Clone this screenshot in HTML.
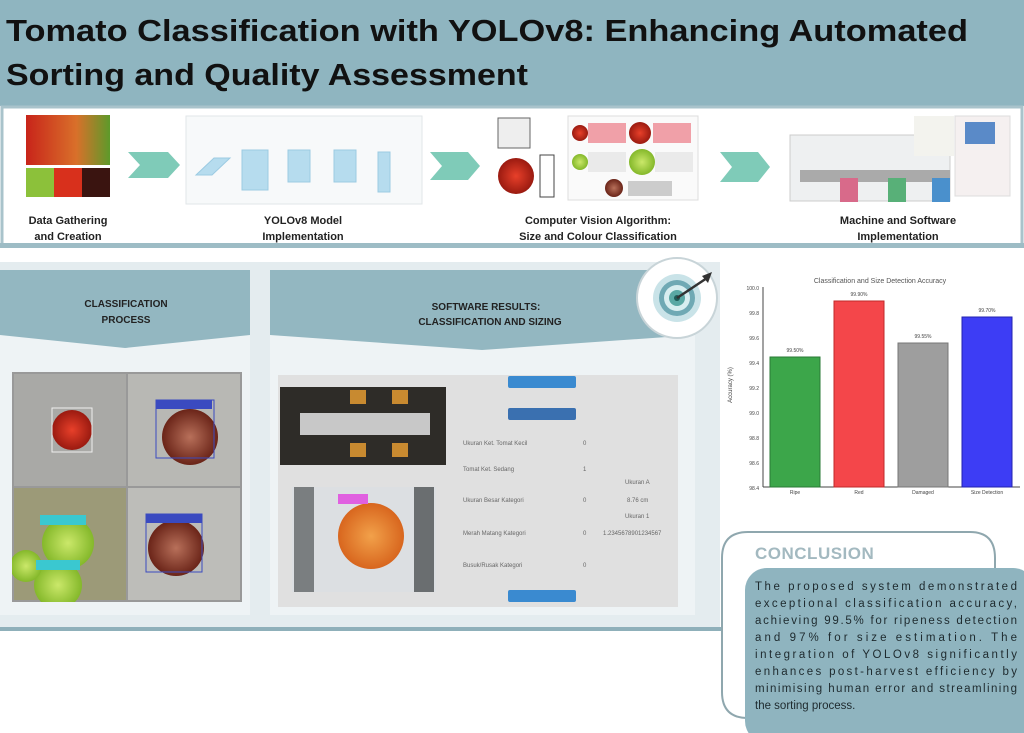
<!DOCTYPE html>
<html><head><meta charset="utf-8"><style>
html,body{margin:0;padding:0;background:#fff;}
svg{display:block;font-family:"Liberation Sans",sans-serif;}
</style></head><body>
<svg width="1024" height="733" viewBox="0 0 1024 733" xmlns="http://www.w3.org/2000/svg">
<defs>
<linearGradient id="tom" x1="0" x2="1"><stop offset="0" stop-color="#c8241a"/><stop offset="0.6" stop-color="#d9702a"/><stop offset="1" stop-color="#5d9a2a"/></linearGradient>
<radialGradient id="org"><stop offset="0" stop-color="#f2a14a"/><stop offset="1" stop-color="#d8661e"/></radialGradient>
<radialGradient id="red"><stop offset="0" stop-color="#e8402a"/><stop offset="1" stop-color="#9a1a10"/></radialGradient>
<radialGradient id="grn"><stop offset="0" stop-color="#cbe86a"/><stop offset="1" stop-color="#84b82a"/></radialGradient>
<radialGradient id="brn"><stop offset="0" stop-color="#b8705a"/><stop offset="1" stop-color="#6a2418"/></radialGradient>
<clipPath id="grid"><rect x="12" y="372" width="230" height="230"/></clipPath>
</defs>
<rect width="1024" height="733" fill="#fff"/>
<!-- header -->
<rect x="0" y="0" width="1024" height="106" fill="#8fb5c0"/>
<text x="6" y="41" font-size="31" font-weight="bold" fill="#111" textLength="962" lengthAdjust="spacingAndGlyphs">Tomato Classification with YOLOv8: Enhancing Automated</text>
<text x="6" y="85" font-size="31" font-weight="bold" fill="#111" textLength="522" lengthAdjust="spacingAndGlyphs">Sorting and Quality Assessment</text>
<!-- pipeline row -->
<rect x="2" y="107" width="1020" height="138" fill="#fff" stroke="#a9c3cb" stroke-width="3"/>
<rect x="0" y="243" width="1024" height="5" fill="#9dbcc5"/>
<rect x="26" y="115" width="84" height="50" fill="url(#tom)"/>
<rect x="26" y="168" width="28" height="29" fill="#8cc13a"/><rect x="54" y="168" width="28" height="29" fill="#d8301c"/><rect x="82" y="168" width="28" height="29" fill="#3a1410"/>
<text x="68" y="224" font-size="11" font-weight="bold" text-anchor="middle" fill="#222">Data Gathering</text>
<text x="68" y="240" font-size="11" font-weight="bold" text-anchor="middle" fill="#222">and Creation</text>
<g fill="#7fcbb8">
<polygon points="128,152 168,152 180,165 168,178 128,178 140,165"/>
<polygon points="430,152 468,152 480,166 468,180 430,180 442,166"/>
<polygon points="720,152 758,152 770,167 758,182 720,182 732,167"/>
</g>
<rect x="186" y="116" width="236" height="88" fill="#f7f9fa" stroke="#e2e6e8"/>
<g fill="#b6dcee" stroke="#9ccbe2">
<polygon points="196,175 214,158 230,158 212,175"/>
<rect x="242" y="150" width="26" height="40"/><rect x="288" y="150" width="22" height="32"/><rect x="334" y="150" width="22" height="32"/><rect x="378" y="152" width="12" height="40"/>
</g>
<text x="303" y="224" font-size="11" font-weight="bold" text-anchor="middle" fill="#222">YOLOv8 Model</text>
<text x="303" y="240" font-size="11" font-weight="bold" text-anchor="middle" fill="#222">Implementation</text>
<rect x="498" y="118" width="32" height="30" fill="#eee" stroke="#666"/>
<circle cx="516" cy="176" r="18" fill="url(#red)"/>
<rect x="540" y="155" width="14" height="42" fill="#fff" stroke="#444"/>
<rect x="568" y="116" width="130" height="84" fill="#fafafa" stroke="#ddd"/>
<circle cx="580" cy="133" r="8" fill="url(#red)"/><rect x="588" y="123" width="38" height="20" fill="#f0a0a8"/>
<circle cx="640" cy="133" r="11" fill="url(#red)"/><rect x="653" y="123" width="38" height="20" fill="#f0a0a8"/>
<circle cx="580" cy="162" r="8" fill="url(#grn)"/><rect x="588" y="152" width="38" height="20" fill="#eaeaea"/>
<circle cx="642" cy="162" r="13" fill="url(#grn)"/><rect x="655" y="152" width="38" height="20" fill="#eaeaea"/>
<circle cx="614" cy="188" r="9" fill="url(#brn)"/><rect x="628" y="181" width="44" height="15" fill="#ccc"/>
<text x="598" y="224" font-size="11" font-weight="bold" text-anchor="middle" fill="#222">Computer Vision Algorithm:</text>
<text x="598" y="240" font-size="11" font-weight="bold" text-anchor="middle" fill="#222">Size and Colour Classification</text>
<rect x="790" y="135" width="160" height="66" fill="#eef0f1" stroke="#ccc"/>
<rect x="800" y="170" width="150" height="12" fill="#aaa"/>
<rect x="840" y="178" width="18" height="24" fill="#d86a8a"/><rect x="888" y="178" width="18" height="24" fill="#58b078"/><rect x="932" y="178" width="18" height="24" fill="#4a90cc"/>
<rect x="914" y="116" width="40" height="40" fill="#f3f3ee"/>
<rect x="955" y="116" width="55" height="80" fill="#f5f0f0" stroke="#ddd"/>
<rect x="965" y="122" width="30" height="22" fill="#5a8ac8"/>
<text x="898" y="224" font-size="11" font-weight="bold" text-anchor="middle" fill="#222">Machine and Software</text>
<text x="898" y="240" font-size="11" font-weight="bold" text-anchor="middle" fill="#222">Implementation</text>
<!-- middle light panel -->
<rect x="0" y="262" width="720" height="366" fill="#e4ecef"/>
<rect x="0" y="627" width="722" height="4" fill="#8fb0ba"/>
<!-- classification panel -->
<rect x="0" y="270" width="250" height="345" fill="#eef3f5"/>
<polygon points="0,270 250,270 250,335 125,348 0,335" fill="#93b7c1"/>
<text x="126" y="307" font-size="10" font-weight="bold" text-anchor="middle" fill="#222">CLASSIFICATION</text>
<text x="126" y="323" font-size="10" font-weight="bold" text-anchor="middle" fill="#222">PROCESS</text>
<rect x="12" y="372" width="230" height="230" fill="#999"/>
<g clip-path="url(#grid)">
<rect x="14" y="374" width="112" height="112" fill="#a9a9a6"/><rect x="128" y="374" width="112" height="112" fill="#b8b8b4"/>
<rect x="14" y="488" width="112" height="112" fill="#9c9a78"/><rect x="128" y="488" width="112" height="112" fill="#bdbdb9"/>
<circle cx="72" cy="430" r="20" fill="url(#red)"/><rect x="52" y="408" width="40" height="44" fill="none" stroke="#eee"/>
<circle cx="190" cy="437" r="28" fill="url(#brn)"/><rect x="156" y="400" width="58" height="58" fill="none" stroke="#3a4ac0"/><rect x="156" y="400" width="56" height="9" fill="#3a4ac0"/>
<circle cx="68" cy="543" r="26" fill="url(#grn)"/><circle cx="58" cy="585" r="24" fill="url(#grn)"/><circle cx="26" cy="566" r="16" fill="url(#grn)"/>
<rect x="40" y="515" width="46" height="10" fill="#3ac8d0"/><rect x="36" y="560" width="44" height="10" fill="#3ac8d0"/>
<circle cx="176" cy="548" r="28" fill="url(#brn)"/><rect x="146" y="514" width="56" height="58" fill="none" stroke="#3a4ac0"/><rect x="146" y="514" width="56" height="9" fill="#3a4ac0"/>
</g>
<!-- software panel -->
<rect x="270" y="270" width="425" height="345" fill="#eef3f5"/>
<polygon points="270,270 695,270 695,335 482,350 270,335" fill="#93b7c1"/>
<text x="486" y="310" font-size="10" font-weight="bold" text-anchor="middle" fill="#222">SOFTWARE RESULTS:</text>
<text x="490" y="325" font-size="10" font-weight="bold" text-anchor="middle" fill="#222">CLASSIFICATION AND SIZING</text>
<rect x="278" y="375" width="400" height="232" fill="#e0e0e0"/>
<rect x="280" y="387" width="166" height="78" fill="#2e2c28"/>
<rect x="300" y="413" width="130" height="22" fill="#c8c8c8"/>
<rect x="350" y="390" width="16" height="14" fill="#c88a30"/><rect x="392" y="390" width="16" height="14" fill="#c88a30"/><rect x="350" y="443" width="16" height="14" fill="#c88a30"/><rect x="392" y="443" width="16" height="14" fill="#c88a30"/>
<rect x="292" y="487" width="144" height="105" fill="#dcdfe2"/>
<rect x="294" y="487" width="20" height="105" fill="#7a7e80"/><rect x="414" y="487" width="20" height="105" fill="#6a6e70"/>
<circle cx="371" cy="536" r="33" fill="url(#org)"/><rect x="338" y="494" width="30" height="10" fill="#e060e0"/>
<rect x="508" y="376" width="68" height="12" rx="2" fill="#3a8ad0"/>
<rect x="508" y="408" width="68" height="12" rx="2" fill="#3a70b0"/>
<rect x="508" y="590" width="68" height="12" rx="2" fill="#3a8ad0"/>
<g font-size="6" fill="#666">
<text x="463" y="445">Ukuran Ket. Tomat Kecil</text><text x="583" y="445">0</text>
<text x="463" y="471">Tomat Ket. Sedang</text><text x="583" y="471">1</text>
<text x="463" y="502">Ukuran Besar Kategori</text><text x="583" y="502">0</text>
<text x="463" y="535">Merah Matang Kategori</text><text x="583" y="535">0</text>
<text x="463" y="567">Busuk/Rusak Kategori</text><text x="583" y="567">0</text>
<text x="625" y="484">Ukuran A</text><text x="627" y="502">8.76 cm</text><text x="625" y="518">Ukuran 1</text><text x="603" y="535">1.2345678901234567</text>
</g>
<!-- target -->
<circle cx="677" cy="298" r="40" fill="#fff" stroke="#c8d4d8" stroke-width="2"/>
<circle cx="677" cy="298" r="24" fill="#c9e3e8"/><circle cx="677" cy="298" r="18" fill="#6fa9b4"/><circle cx="677" cy="298" r="13" fill="#d8eef0"/><circle cx="677" cy="298" r="8" fill="#5aa8a4"/><circle cx="677" cy="298" r="3" fill="#1e5c58"/>
<line x1="677" y1="298" x2="707" y2="278" stroke="#333" stroke-width="2.5"/><polygon points="702,276 712,272 708,283" fill="#333"/>
<!-- chart -->
<text x="880" y="283" font-size="7" text-anchor="middle" fill="#555">Classification and Size Detection Accuracy</text>
<line x1="763" y1="287" x2="763" y2="487" stroke="#444" stroke-width="1"/>
<line x1="763" y1="487" x2="1020" y2="487" stroke="#444" stroke-width="1"/>
<g font-size="5" fill="#444" text-anchor="end">
<text x="759" y="290">100.0</text><text x="759" y="315">99.8</text><text x="759" y="340">99.6</text><text x="759" y="365">99.4</text><text x="759" y="390">99.2</text><text x="759" y="415">99.0</text><text x="759" y="440">98.8</text><text x="759" y="465">98.6</text><text x="759" y="490">98.4</text>
</g>
<text x="732" y="385" font-size="6" fill="#444" transform="rotate(-90 732 385)" text-anchor="middle">Accuracy (%)</text>
<rect x="770" y="357" width="50" height="130" fill="#3ca64a" stroke="#2a7a36"/>
<rect x="834" y="301" width="50" height="186" fill="#f4464a" stroke="#c02a2a"/>
<rect x="898" y="343" width="50" height="144" fill="#9e9e9e" stroke="#777"/>
<rect x="962" y="317" width="50" height="170" fill="#3d3df5" stroke="#2222b0"/>
<g font-size="5" fill="#444" text-anchor="middle">
<text x="795" y="352">99.50%</text><text x="859" y="296">99.90%</text><text x="923" y="338">99.55%</text><text x="987" y="312">99.70%</text>
<text x="795" y="494">Ripe</text><text x="859" y="494">Red</text><text x="923" y="494">Damaged</text><text x="987" y="494">Size Detection</text>
</g>
<!-- conclusion -->
<path d="M748,718 Q722,718 722,692 L722,558 Q722,532 748,532 L970,532 Q995,532 995,558 L995,580" fill="none" stroke="#8fa7ae" stroke-width="2"/>
<text x="755" y="559" font-size="17" font-weight="bold" fill="#a3b9c0" letter-spacing="0.5">CONCLUSION</text>
<rect x="745" y="568" width="290" height="175" rx="22" fill="#8fb4bf"/>
<g font-size="11.5" fill="#1e2a2e">
<text x="755" y="590" textLength="262" lengthAdjust="spacing">The proposed system demonstrated</text>
<text x="755" y="607" textLength="262" lengthAdjust="spacing">exceptional classification accuracy,</text>
<text x="755" y="624" textLength="262" lengthAdjust="spacing">achieving 99.5% for ripeness detection</text>
<text x="755" y="641" textLength="262" lengthAdjust="spacing">and 97% for size estimation. The</text>
<text x="755" y="658" textLength="262" lengthAdjust="spacing">integration of YOLOv8 significantly</text>
<text x="755" y="675" textLength="262" lengthAdjust="spacing">enhances post-harvest efficiency by</text>
<text x="755" y="692" textLength="262" lengthAdjust="spacing">minimising human error and streamlining</text>
<text x="755" y="709">the sorting process.</text>
</g>
</svg>
</body></html>
